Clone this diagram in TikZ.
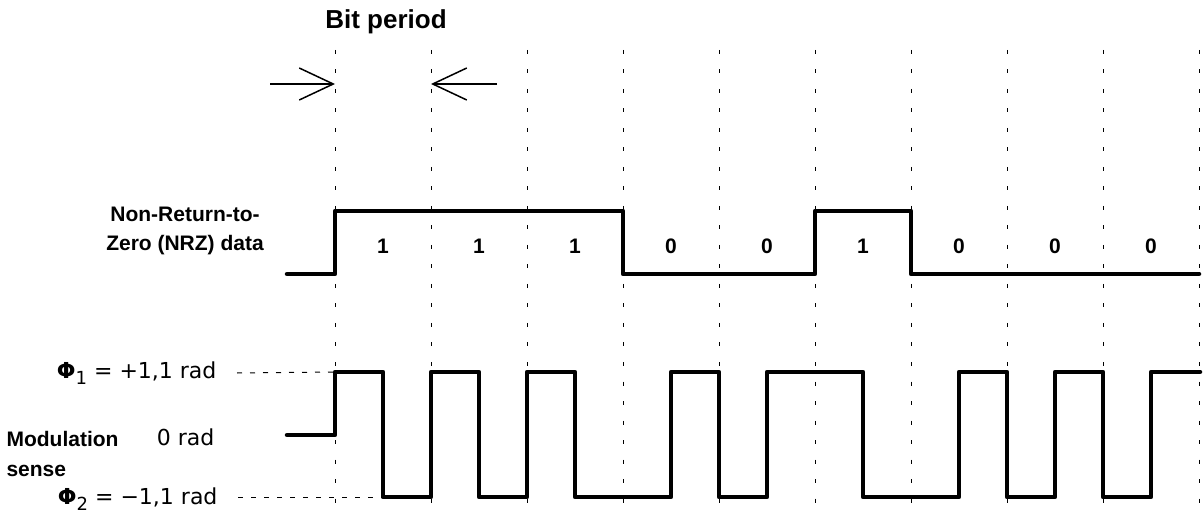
\documentclass[tikz,border=0pt]{standalone}
\usepackage{fontspec}
\setmainfont{Liberation Sans}
\newfontfamily\radfont{DejaVu Sans}
\usetikzlibrary{arrows.meta}

\begin{document}
\begin{tikzpicture}[x=1pt,y=-1pt,
	gridline/.style={line width=1pt,dash pattern=on 4pt off 15.5pt},
	levelline/.style={line width=1pt,dash pattern=on 5pt off 8pt},
	wave/.style={line width=4.5pt,line join=round,line cap=round},
	boldtext/.style={font=\fontsize{21}{29}\selectfont\bfseries},
	radtext/.style={font=\radfont\fontsize{22}{26}\selectfont},
	marker/.style={line width=1.5pt,-{Straight Barb[length=34pt,width=32pt,line width=1.5pt]}}]
	\useasboundingbox (0,0) rectangle (1204,518);

	\foreach \x in {335,431,...,1199}
		\draw[gridline] (\x,50) -- (\x,508);

	\node[font=\fontsize{26}{30}\selectfont\bfseries] (title) at (386,22) {Bit period};
	\coordinate (l0) at (270,84);
	\coordinate (l1) at (335,84);
	\coordinate (r0) at (497,84);
	\coordinate (r1) at (431,84);
	\draw[marker] (l0) -- (l1);
	\draw[marker] (r0) -- (r1);

	\node[boldtext,align=center] (nrz) at (185,231) {Non-Return-to-\\Zero (NRZ) data};
	\foreach \b [count=\i from 0] in {1,1,1,0,0,1,0,0,0}
		\node[boldtext] (bit\i) at (383+96*\i,246) {\b};

	\draw[wave] (287,274) -- (335,274) -- (335,211) -- (623,211) -- (623,274) -- (815,274)
		-- (815,211) -- (911,211) -- (911,274) -- (1199,274);

	\node[radtext,anchor=east] (phia) at (220,373) {\textbf{Φ}\raisebox{-0.55ex}{\fontsize{18}{18}\selectfont 1} = +1,1 rad};
	\node[radtext,anchor=east] (zero) at (218,437) {0 rad};
	\node[radtext,anchor=east] (phib) at (221,499) {\textbf{Φ}\raisebox{-0.55ex}{\fontsize{18}{18}\selectfont 2} = −1,1 rad};
	\node[font=\fontsize{21}{30}\selectfont\bfseries,align=left,anchor=west] (mod) at (3,454) {Modulation\\sense};

	\coordinate (ha) at (335,372);
	\coordinate (hb) at (383,497);
	\draw[levelline] ([xshift=17pt]phia.east) -- (ha);
	\draw[levelline] ([xshift=17pt]phib.east |- hb) -- (hb);

	\draw[wave] (287,435) -- (335,435) -- (335,372) -- (383,372) -- (383,497) -- (431,497)
		-- (431,372) -- (479,372) -- (479,497) -- (527,497) -- (527,372) -- (575,372)
		-- (575,497) -- (671,497) -- (671,372) -- (719,372) -- (719,497) -- (767,497)
		-- (767,372) -- (863,372) -- (863,497) -- (959,497) -- (959,372) -- (1007,372)
		-- (1007,497) -- (1055,497) -- (1055,372) -- (1103,372) -- (1103,497) -- (1151,497)
		-- (1151,372) -- (1200,372);
\end{tikzpicture}
\end{document}
